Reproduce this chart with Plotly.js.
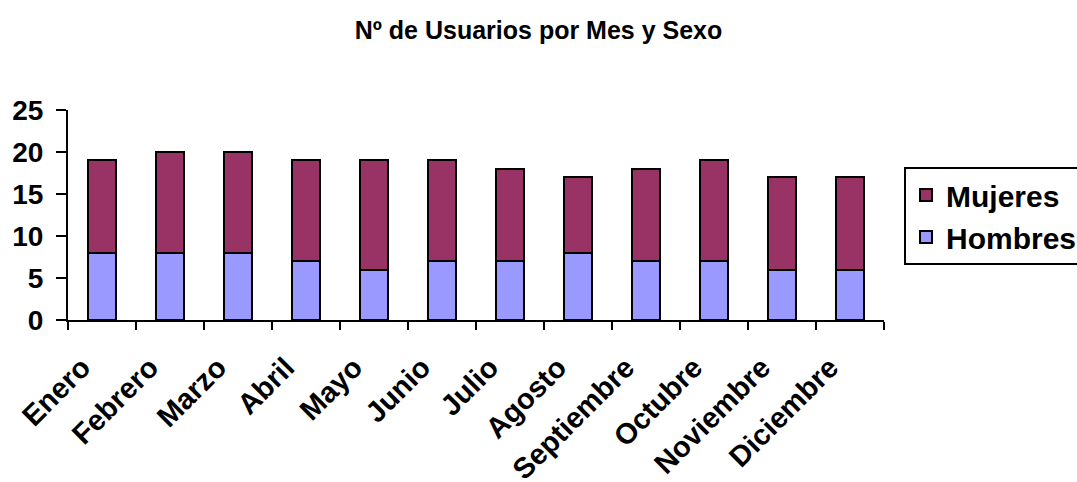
<!DOCTYPE html>
<html>
<head>
<meta charset="utf-8">
<script src="https://cdn.plot.ly/plotly-3.0.1.min.js"></script>
<style>html,body{margin:0;padding:0;background:#fff;}#chart{width:1077px;height:482px;}</style>
</head>
<body>
<div id="chart"></div>
<script>
const meses = ["Enero","Febrero","Marzo","Abril","Mayo","Junio","Julio","Agosto","Septiembre","Octubre","Noviembre","Diciembre"];
const hombres = [8,8,8,7,6,7,7,8,7,7,6,6];
const mujeres = [11,12,12,12,13,12,11,9,11,12,11,11];
const yTicks = [0,5,10,15,20,25];

const FONT = "Liberation Sans, Arial, sans-serif";
const line = {color:"#000", width:2};

const traces = [
  {type:"bar", name:"Hombres", x:meses, y:hombres, width:0.4, legendgroup:"h", legendrank:2,
   marker:{color:"#9999FF", line:line}},
  {type:"bar", name:"Mujeres", x:meses, y:mujeres, width:0.4, legendgroup:"m", legendrank:1,
   marker:{color:"#993366", line:line}}
];

const layout = {
  width:1077, height:482,
  margin:{l:68, r:193, t:110, b:162, autoexpand:false},
  paper_bgcolor:"#fff", plot_bgcolor:"#fff",
  barmode:"stack",
  font:{family:FONT, color:"#000"},
  title:{text:"<b>Nº de Usuarios por Mes y Sexo</b>", font:{size:25, family:FONT, color:"#000"},
         x:0.5, xanchor:"center", y:1-30/482, yanchor:"middle", yref:"container"},
  xaxis:{type:"category", range:[-0.5,11.5], tickangle:-45, tickson:"boundaries",
         ticks:"outside", ticklen:8, tickwidth:2, tickcolor:"#000",
         ticklabelstandoff:17, ticklabelshift:-20,
         showline:true, linecolor:"#000", linewidth:2, showgrid:false, zeroline:false,
         tickfont:{size:29, family:FONT, color:"#000", weight:"bold"}},
  yaxis:{range:[0,25], tickvals:yTicks, ticktext:yTicks.map(String),
         ticks:"outside", ticklen:10, tickwidth:2, tickcolor:"#000", ticklabelstandoff:7,
         showline:true, linecolor:"#000", linewidth:2, showgrid:false, zeroline:false,
         tickfont:{size:28, family:FONT, color:"#000", weight:"bold"}},
  showlegend:true,
  legend:{x:(904-68)/816, xanchor:"left", y:(320-167)/210, yanchor:"top",
          traceorder:"grouped", tracegroupgap:0,
          bordercolor:"#000", borderwidth:2, bgcolor:"#fff",
          font:{size:30, family:FONT, color:"#000", weight:"bold"}}
};

Plotly.newPlot("chart", traces, layout, {staticPlot:true, displayModeBar:false});
</script>
</body>
</html>
